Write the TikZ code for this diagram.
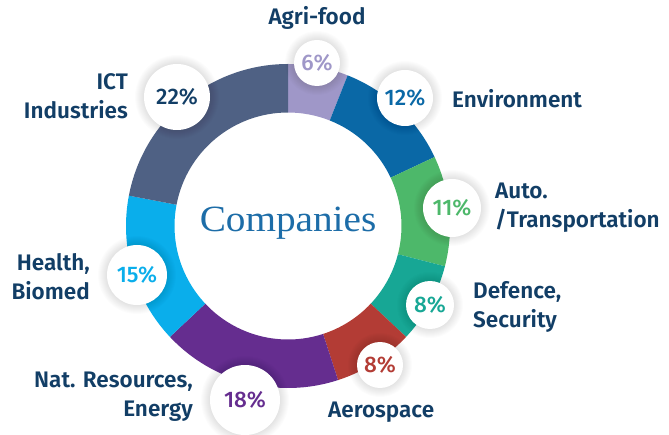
\documentclass[tikz,border=0pt]{standalone}
\usepackage{fontspec}
\setmainfont{Fira Sans}
\newfontfamily\labfont{Fira Sans SemiBold}
\newfontfamily\pctfont{Fira Sans Medium}
\newfontfamily\serfont{Liberation Serif}
\usetikzlibrary{calc}
\definecolor{agric}{HTML}{9F97C8}
\definecolor{envc}{HTML}{0A68A6}
\definecolor{autoc}{HTML}{4DB86A}
\definecolor{defc}{HTML}{17A795}
\definecolor{aeroc}{HTML}{B33C35}
\definecolor{natc}{HTML}{652D8F}
\definecolor{healthc}{HTML}{0AAEEB}
\definecolor{ictc}{HTML}{4F6184}
\definecolor{navy}{HTML}{123E66}
\definecolor{compc}{HTML}{1D6DA8}
\tikzset{
  lab/.style={text=navy,font=\labfont\fontsize{22.5}{29}\selectfont,inner sep=0pt},
  bubble/.style={circle,fill=white,inner sep=0pt,font=\pctfont\fontsize{22.5}{27}\selectfont}
}
\newcommand\seg[3]{\fill[#3] ($(c)+(#1:162)$) arc[start angle=#1,end angle=#2,radius=162pt] -- ($(c)+(#2:113.5)$) arc[start angle=#2,end angle=#1,radius=113.5pt] -- cycle;}
\newcommand\bub[6]{%
  \foreach \k in {1,...,9}{\fill[black,opacity=0.011] (#2,#3) circle[radius=#4pt+\k pt];}
  \node[bubble,minimum size=2*#4pt,text=#5] (#1) at (#2,#3) {#6};}
\begin{document}
\begin{tikzpicture}[x=1pt,y=1pt]
\useasboundingbox (0,0) rectangle (669,434);
\fill[white] (0,0) rectangle (669,434);
\coordinate (c) at (288,208);
\seg{90}{68.4}{agric}
\seg{68.4}{25.2}{envc}
\seg{25.2}{-14.4}{autoc}
\seg{-14.4}{-43.2}{defc}
\seg{-43.2}{-72}{aeroc}
\seg{-72}{-136.8}{natc}
\seg{-136.8}{-190.8}{healthc}
\seg{-190.8}{-270}{ictc}
\node[font=\serfont\fontsize{37}{40}\selectfont,text=compc] (title) at (288,211) {\scalebox{1.06}[1]{Companies}};
\bub{b6}{317}{371}{23}{agric}{6\%}
\bub{b12}{405}{336}{28}{envc}{12\%}
\bub{b11}{452}{226}{29}{autoc}{11\%}
\bub{b8d}{430}{129}{24}{defc}{8\%}
\bub{b8a}{380}{69}{23}{aeroc}{8\%}
\bub{b18}{245}{34}{35}{natc}{18\%}
\bub{b15}{137}{159}{30}{healthc}{15\%}
\bub{b22}{177}{337}{33}{navy}{22\%}
\node[lab] (lagri) at (317,416) {Agri-food};
\node[lab,anchor=west] (lenv) at (452,335) {Environment};
\node[lab,anchor=east,align=right] (lict) at (128,338) {ICT\\Industries};
\node[lab,anchor=west,align=left] (lauto) at (495,226) {Auto.\\/Transportation};
\node[lab,anchor=west,align=left] (ldef) at (473,127) {Defence,\\Security};
\node[lab,anchor=west] (laero) at (328,22) {Aerospace};
\node[lab,anchor=east,align=right] (lhealth) at (90,157) {Health,\\Biomed};
\node[lab,anchor=east,align=right] (lnat) at (193,37) {Nat. Resources,\\Energy};
\end{tikzpicture}
\end{document}
